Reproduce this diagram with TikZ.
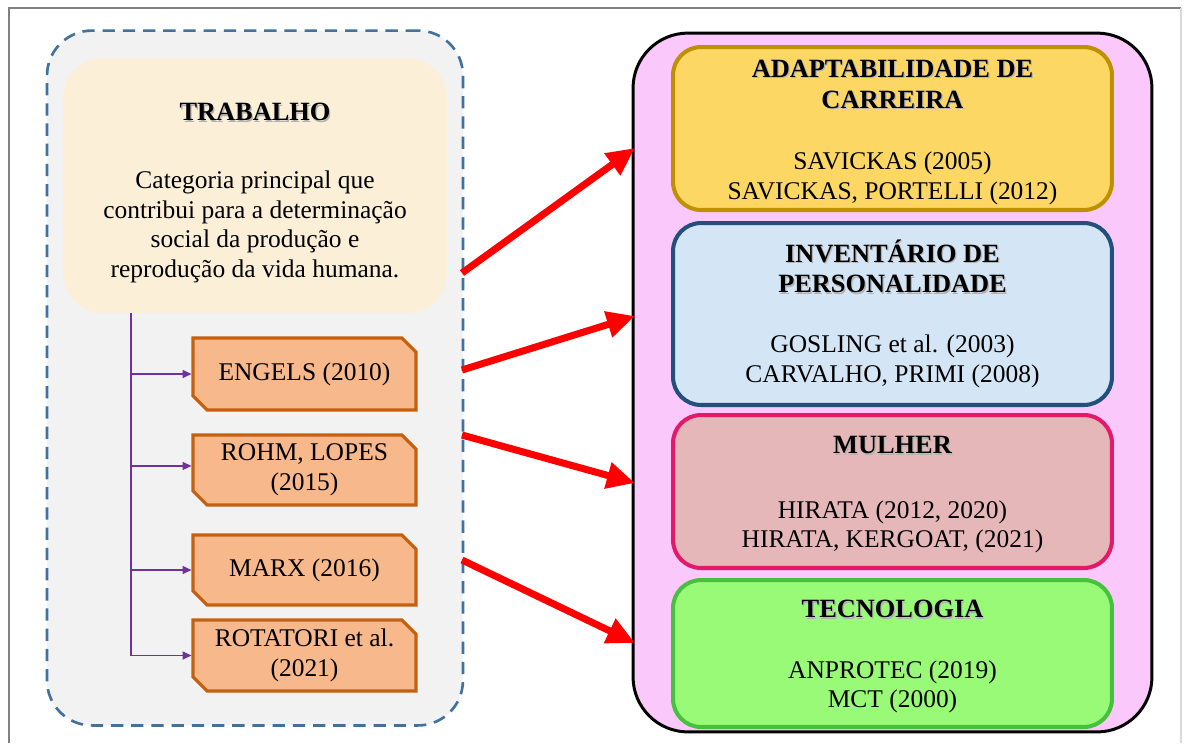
\documentclass[tikz,border=0pt]{standalone}
\usepackage{fontspec}
\setmainfont{Liberation Serif}
\usetikzlibrary{arrows.meta,shapes.misc}

\definecolor{framegray}{HTML}{808080}
\definecolor{panelgray}{HTML}{F2F2F2}
\definecolor{dashblue}{HTML}{41719C}
\definecolor{cream}{HTML}{FBEFD8}
\definecolor{refill}{HTML}{F7B88C}
\definecolor{reline}{HTML}{C5600F}
\definecolor{treeline}{HTML}{7030A0}
\definecolor{pinkpanel}{HTML}{FBC8FB}
\definecolor{goldfill}{HTML}{FDD763}
\definecolor{goldline}{HTML}{BF9000}
\definecolor{bluefill}{HTML}{D4E5F5}
\definecolor{blueline}{HTML}{23507A}
\definecolor{rosefill}{HTML}{E6B7B9}
\definecolor{roseline}{HTML}{E21A69}
\definecolor{greenfill}{HTML}{99FA78}
\definecolor{greenline}{HTML}{45C13E}
\definecolor{arrowred}{HTML}{FF0000}

% bold heading with a soft grey drop shadow
\newcommand\shtxt[1]{\makebox[0pt][l]{\hspace{0.7pt}\raisebox{-0.7pt}{\textcolor{black!30}{#1}}}#1}

\tikzset{
  txt/.style={font=\fontsize{14.5}{16.8}\selectfont, align=center, inner sep=0pt},
  heading/.style={txt, font=\fontsize{15}{17.5}\selectfont\bfseries},
  refbox/.style={chamfered rectangle, chamfered rectangle corners={north east,south west},
     chamfered rectangle xsep=0.14cm, chamfered rectangle ysep=0.14cm,
     draw=reline, line width=1.8pt, fill=refill, minimum width=4.46cm,
     txt},
  topicbox/.style={draw, line width=2.3pt, rounded corners=0.56cm, minimum width=8.78cm},
  branch/.style={treeline, line width=0.8pt, -{Triangle[length=5pt,width=4.5pt]}},
  bigarrow/.style={arrowred, line width=4pt, -{Triangle[length=16pt,width=14.5pt]}},
}

\begin{document}
\begin{tikzpicture}[x=0.02cm,y=-0.02cm]
  \useasboundingbox (0,0) rectangle (1184,745);
  \fill[white] (0,0) rectangle (1184,745);
  % page frame
  \draw[framegray, line width=1.2pt] (9,743) -- (9,8) -- (1181,8);
  \draw[black!15, line width=0.6pt] (1181,8) -- (1181,743);

  % left panel
  \node[draw=dashblue, line width=1.5pt, dash pattern=on 7pt off 4.5pt,
        fill=panelgray, rounded corners=0.9cm, minimum width=8.32cm, minimum height=13.9cm]
        (left) at (255,378) {};
  \node[fill=cream, rounded corners=0.8cm, minimum width=7.68cm, minimum height=5.1cm]
        (trab) at (255,185.5) {};
  \node[heading] (trabt) at (255,113) {\shtxt{TRABALHO}};
  \node[txt] (trabd) at (255,227) {Categoria principal que\\contribui para a determinação\\social da produção e\\reprodução da vida humana.};

  % references
  \node[refbox, minimum height=1.44cm] (engels) at (304.5,374) {ENGELS (2010)};
  \node[refbox, minimum height=1.40cm] (rohm) at (304.5,470) {ROHM, LOPES\\(2015)};
  \node[refbox, minimum height=1.40cm] (marx) at (304.5,570) {MARX (2016)};
  \node[refbox, minimum height=1.42cm] (rota) at (304.5,655.5) {ROTATORI et al.\\(2021)};

  \coordinate (trunk) at (131,313);
  \draw[treeline, line width=0.8pt] (trunk) -- (rota.west -| trunk);
  \draw[branch] (engels.west -| trunk) -- (engels.west);
  \draw[branch] ([yshift=2.3pt]rohm.west -| trunk) -- ([yshift=2.3pt]rohm.west);
  \draw[branch] (marx.west -| trunk) -- (marx.west);
  \draw[branch] (rota.west -| trunk) -- (rota.west);

  % right panel
  \node[draw=black, line width=1.7pt, fill=pinkpanel, rounded corners=1.1cm,
        minimum width=10.38cm, minimum height=13.98cm] (right) at (892.5,382.5) {};

  \node[topicbox, draw=goldline, fill=goldfill, minimum height=3.26cm] (adapt) at (892.5,128.5) {};
  \node[heading] (adaptt) at (892.5,85) {\shtxt{ADAPTABILIDADE DE}\\\shtxt{CARREIRA}};
  \node[txt] (adaptr) at (892.5,178.5) {SAVICKAS (2005)\\SAVICKAS, PORTELLI (2012)};

  \node[topicbox, draw=blueline, fill=bluefill, minimum height=3.64cm] (inv) at (892.5,314) {};
  \node[heading] (invt) at (892.5,267) {\shtxt{INVENTÁRIO DE}\\\shtxt{PERSONALIDADE}};
  \node[txt] (invr) at (892.5,361.5) {GOSLING et al. (2003)\\CARVALHO, PRIMI (2008)};

  \node[topicbox, draw=roseline, fill=rosefill, minimum height=3.06cm] (mulher) at (892.5,491.5) {};
  \node[heading] (mulhert) at (892.5,446) {\shtxt{MULHER}};
  \node[txt] (mulherr) at (892.5,527) {HIRATA (2012, 2020)\\HIRATA, KERGOAT, (2021)};

  \node[topicbox, draw=greenline, fill=greenfill, minimum height=2.94cm] (tec) at (892.5,653.5) {};
  \node[heading] (tect) at (892.5,610) {\shtxt{TECNOLOGIA}};
  \node[txt] (tecr) at (892.5,687) {ANPROTEC (2019)\\MCT (2000)};

  % links between the panels
  \coordinate (s1) at (462,273);  \coordinate (e1) at (635,148);
  \coordinate (s2) at (462,370);  \coordinate (e2) at (635,316);
  \coordinate (s3) at (462,435);  \coordinate (e3) at (635,483);
  \coordinate (s4) at (462,560);  \coordinate (e4) at (635,643);
  \draw[bigarrow] (s1) -- (e1);
  \draw[bigarrow] (s2) -- (e2);
  \draw[bigarrow] (s3) -- (e3);
  \draw[bigarrow] (s4) -- (e4);
\end{tikzpicture}
\end{document}
